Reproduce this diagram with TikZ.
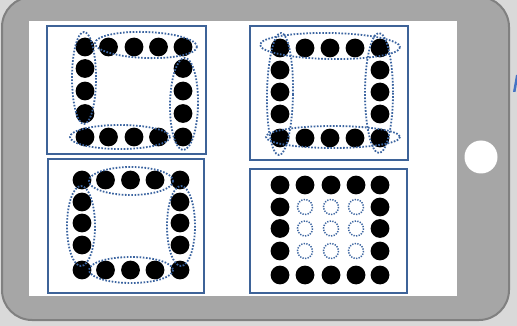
\documentclass[tikz,border=0pt]{standalone}
\usepackage{tikz}
\definecolor{bggray}{HTML}{D9D9D9}
\definecolor{bodygray}{HTML}{A6A6A6}
\definecolor{edgegray}{HTML}{808080}
\definecolor{frameblue}{HTML}{3E6398}
\definecolor{dotblue}{HTML}{3B64A0}
\definecolor{edgeblue}{HTML}{4472C4}
\tikzset{
  panel/.style={draw=frameblue, line width=2.3pt, fill=white},
  bead/.style={fill=black},
  ring/.style={draw=dotblue, line width=1.8pt, dash pattern=on 1.6pt off 1.6pt},
  ghost/.style={draw=dotblue, line width=1.5pt, dash pattern=on 1.3pt off 1.3pt},
}
\begin{document}
\begin{tikzpicture}[x=1pt,y=-1pt]
\useasboundingbox (0,0) rectangle (517,326);
\fill[bggray] (0,0) rectangle (517,326);
% tablet body
\draw[fill=bodygray, draw=edgegray, line width=2pt, rounded corners=30pt] (2,-3) rectangle (509,320);
% screen
\fill[white] (29,21) rectangle (457,296);
% home button
\fill[white] (481,157) circle (16.5);
% clipped blue fragment at the right edge
\fill[edgeblue] (513,92) -- (515.5,92) -- (518.5,75) -- (516,75) -- cycle;

% panels
\draw[panel] (47,26) rectangle (206,154);
\draw[panel] (250,26) rectangle (408,160);
\draw[panel] (48,159) rectangle (204,293);
\draw[panel] (250,169) rectangle (407,293);

% ---------- panel 1 ----------
\foreach \x in {85,108.5,134,158.5,183}{\fill[bead] (\x,47) circle (9.4); \fill[bead] (\x,137) circle (9.4);}
\foreach \y in {68.5,91,113.5}{\fill[bead] (85,\y) circle (9.4); \fill[bead] (183,\y) circle (9.4);}
\draw[ring] (84,78) ellipse [x radius=12, y radius=46];
\draw[ring, rotate around={-2:(146,45)}] (146,45) ellipse [x radius=51, y radius=13];
\draw[ring, rotate around={-1:(184,104)}] (184,104) ellipse [x radius=14, y radius=46];
\draw[ring] (120,137) ellipse [x radius=50, y radius=12];

% ---------- panel 2 ----------
\foreach \x in {280,305,330,355,380}{\fill[bead] (\x,48) circle (9.4); \fill[bead] (\x,138) circle (9.4);}
\foreach \y in {70,92,114}{\fill[bead] (280,\y) circle (9.4); \fill[bead] (380,\y) circle (9.4);}
\draw[ring, rotate around={-1:(330,46)}] (330,46) ellipse [x radius=70, y radius=13];
\draw[ring, rotate around={-1:(280,94)}] (280,94) ellipse [x radius=13, y radius=61];
\draw[ring] (379,93) ellipse [x radius=14, y radius=60];
\draw[ring] (333,137) ellipse [x radius=67, y radius=11];

% ---------- panel 3 ----------
\foreach \x in {82,105.5,130.5,155,180}{\fill[bead] (\x,180) circle (9.4); \fill[bead] (\x,270) circle (9.4);}
\foreach \y in {202,223,245}{\fill[bead] (82,\y) circle (9.4); \fill[bead] (180,\y) circle (9.4);}
\draw[ring] (131,181) ellipse [x radius=42, y radius=14];
\draw[ring] (81,226) ellipse [x radius=14, y radius=40];
\draw[ring] (181,226) ellipse [x radius=14, y radius=40];
\draw[ring] (131,270) ellipse [x radius=42, y radius=13];

% ---------- panel 4 ----------
\foreach \x in {280,305,331,356,380}{\fill[bead] (\x,185) circle (9.4); \fill[bead] (\x,275) circle (9.4);}
\foreach \y in {207,228.5,251}{\fill[bead] (280,\y) circle (9.4); \fill[bead] (380,\y) circle (9.4);}
\foreach \x in {305,331,356}{\foreach \y in {207,228.5,251}{\draw[ghost] (\x,\y) circle (7.5);}}
\end{tikzpicture}
\end{document}
